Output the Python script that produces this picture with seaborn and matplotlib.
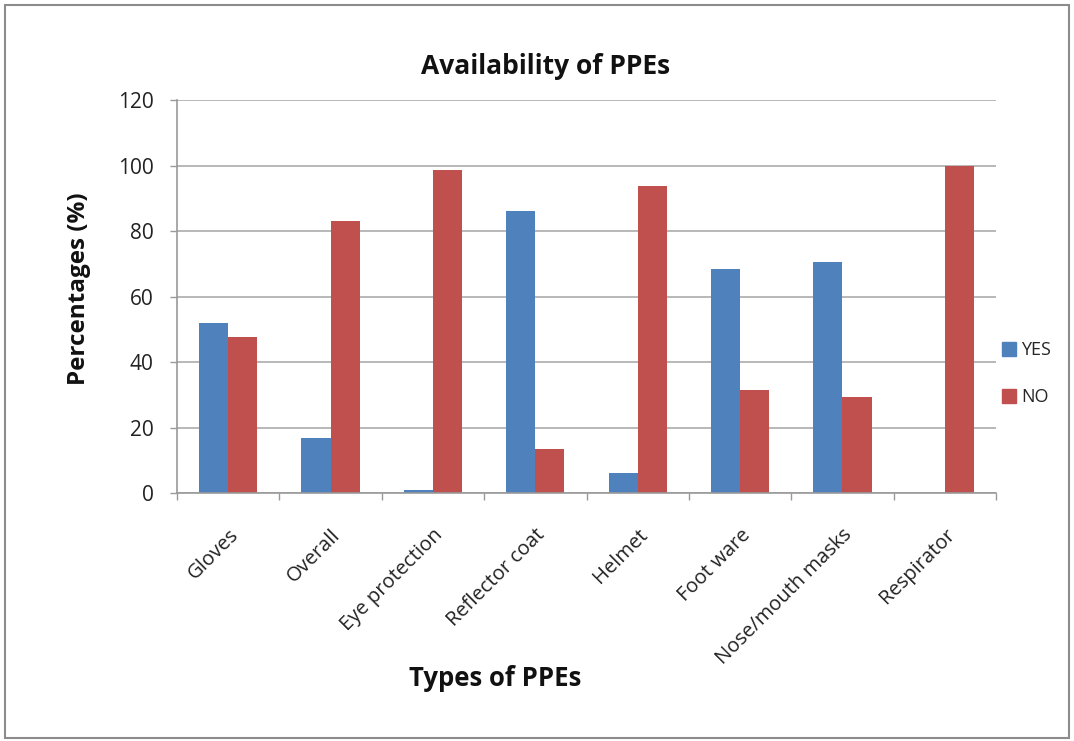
import matplotlib
matplotlib.use("Agg")
import matplotlib.pyplot as plt
import seaborn as sns
import pandas as pd
from matplotlib.patches import Rectangle

categories = ["Gloves", "Overall", "Eye protection", "Reflector coat", "Helmet",
              "Foot ware", "Nose/mouth masks", "Respirator"]
yes_values = [52.0, 16.8, 1.1, 86.2, 6.1, 68.4, 70.5, 0.0]
no_values = [47.7, 83.0, 98.7, 13.6, 93.8, 31.5, 29.3, 100.0]
series = ["YES", "NO"]
yticks = [0, 20, 40, 60, 80, 100, 120]

df = pd.DataFrame({
    "PPE": categories * 2,
    "Response": [series[0]] * len(categories) + [series[1]] * len(categories),
    "Percent": yes_values + no_values,
})

sns.set_theme(style="white")
plt.rcParams["font.family"] = ["Open Sans", "DejaVu Sans"]

fig = plt.figure(figsize=(10.74, 7.41), dpi=100)
ax = fig.add_axes([0.1648, 0.3343, 0.7626, 0.5308])

palette = {"YES": "#4F81BD", "NO": "#C0504D"}
sns.barplot(data=df, x="PPE", y="Percent", hue="Response", order=categories,
            hue_order=series, palette=palette, width=0.57, gap=0,
            saturation=1, ax=ax, legend=False, edgecolor="none")

ax.set_ylim(0, 120)
ax.set_xlim(-0.5, len(categories) - 0.5)
ax.set_yticks(yticks)
ax.set_yticklabels([str(t) for t in yticks], fontsize=15, color="#222222")
ax.yaxis.grid(True, color="#ababab", linewidth=1.2)
ax.set_axisbelow(True)

# category labels, with tick marks on the category boundaries
ax.set_xticks(range(len(categories)))
ax.set_xticklabels(categories, rotation=45, ha="right", rotation_mode="anchor",
                   fontsize=14.5, color="#222222")
ax.tick_params(axis="x", length=0, pad=23)
ax.set_xticks([i - 0.5 for i in range(len(categories) + 1)], minor=True)
ax.tick_params(axis="x", which="minor", length=5, color="#999999", width=1,
               direction="out", bottom=True)
ax.tick_params(axis="y", length=5, color="#999999", width=1, direction="out",
               left=True, pad=12)

for side in ["top", "right"]:
    ax.spines[side].set_visible(False)
for side in ["left", "bottom"]:
    ax.spines[side].set_color("#999999")
    ax.spines[side].set_linewidth(1.2)

ax.set_xlabel("")
ax.set_ylabel("")

fig.text(79 / 1074, 1 - 289 / 741, "Percentages (%)", rotation=90, ha="center",
         va="center", fontsize=17.5, fontweight="bold", color="#111111")
fig.text(546 / 1074, 1 - 66 / 741, "Availability of PPEs", ha="center", va="center",
         fontsize=19, fontweight="bold", color="#111111")
fig.text(495 / 1074, 1 - 679 / 741, "Types of PPEs", ha="center", va="center",
         fontsize=18.5, fontweight="bold", color="#111111")

# legend on the right
handles = [Rectangle((0, 0), 1, 1, color=palette[s]) for s in series]
fig.legend(handles, series, loc="center left", bbox_to_anchor=(0.9175, 0.496),
           frameon=False, fontsize=13, handlelength=0.8, handleheight=0.8,
           handletextpad=0.3, labelspacing=1.6)

# outer chart frame
fig.patches.append(Rectangle((0.005, 0.004), 0.990, 0.989, transform=fig.transFigure,
                             fill=False, edgecolor="#8c8c8c", linewidth=1.5))

fig.savefig("out.png", dpi=100)
